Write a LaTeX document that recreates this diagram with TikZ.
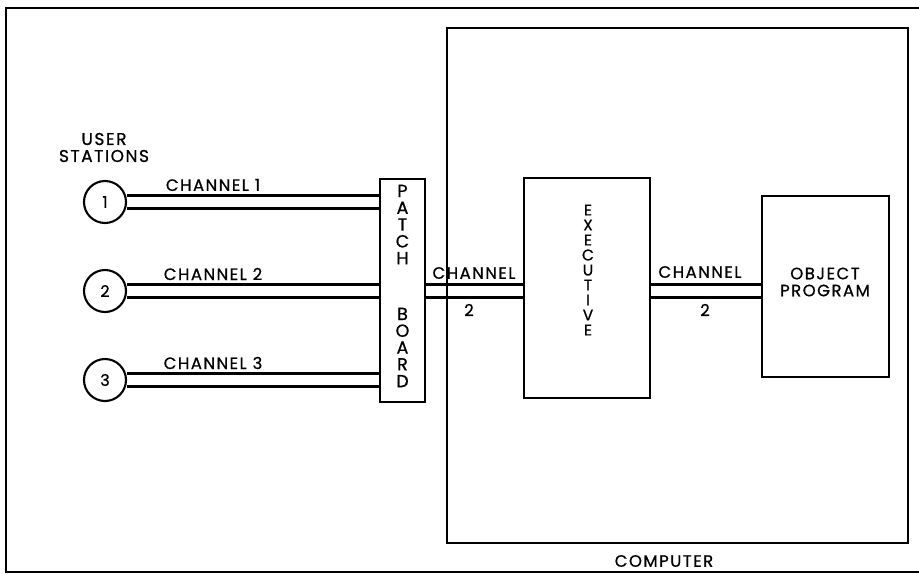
\documentclass[tikz,border=0pt]{standalone}
\usepackage{fontspec}
\setmainfont{Poppins}[LetterSpace=9, FakeBold=0.8]
\begin{document}
\begin{tikzpicture}[x=1pt,y=-1pt,
  ln/.style={line width=2.1pt},
  blk/.style={draw, line width=2.1pt, inner sep=0pt, rectangle},
  stn/.style={draw, line width=2.1pt, circle, minimum size=42pt, inner sep=0pt, font=\fontsize{16}{18}\selectfont},
  lbl/.style={font=\fontsize{16.5}{17}\selectfont, inner sep=0pt, align=center},
  vert/.style={font=\fontsize{17.5}{16.8}\selectfont, inner sep=0pt, align=center}]
\useasboundingbox (0,0) rectangle (919,574);
% outer frame (right side outside the picture)
\draw[ln] (930,8) -- (6,8) -- (6,572) -- (930,572);
% computer
\node[blk, minimum width=461pt, minimum height=515pt] (comp) at (677.5,285.5) {};
\node[lbl] (complbl) at (664,561) {COMPUTER};
% user stations
\node[lbl, font=\fontsize{17}{17}\selectfont] (us) at (104,147.5) {USER\\STATIONS};
\node[stn] (s1) at (105,202) {1};
\node[stn] (s2) at (105,291) {2};
\node[stn] (s3) at (105,380) {3};
% patch board
\node[blk, minimum width=45pt, minimum height=223pt] (pb) at (402.5,290.5) {};
\node[vert] (pbt) at (402.5,286) {P\\A\\T\\C\\H\\[39pt]B\\O\\A\\R\\D};
% executive
\node[blk, minimum width=126pt, minimum height=220pt] (ex) at (587,288) {};
\node[vert, font=\fontsize{15.5}{15}\selectfont] (ext) at (588,270) {E\\X\\E\\C\\U\\T\\I\\V\\E};
% object program
\node[blk, minimum width=127pt, minimum height=181pt] (op) at (825.5,286.5) {};
\node[lbl] (opt) at (825,282) {OBJECT\\PROGRAM};
% channels from stations
\foreach \s/\n in {s1/1,s2/2,s3/3}{
  \draw[ln] ([yshift=-6.5pt]\s.east) -- ([yshift=-6.5pt]\s.east -| pb.west);
  \draw[ln] ([yshift=6.5pt]\s.east) -- ([yshift=6.5pt]\s.east -| pb.west);
  \node[lbl] (c\n) at ([xshift=108pt,yshift=17pt]\s.center) {CHANNEL \n};
}
% channel 2 inside computer
\draw[ln] ([yshift=-6.5pt]s2.east -| pb.east) -- ([yshift=-6.5pt]s2.east -| ex.west);
\draw[ln] ([yshift=6.5pt]s2.east -| pb.east) -- ([yshift=6.5pt]s2.east -| ex.west);
\node[lbl] (cc1) at (474,273) {CHANNEL};
\node[lbl] (cc1n) at (469,310) {2};
\draw[ln] ([yshift=-6.5pt]s2.east -| ex.east) -- ([yshift=-6.5pt]s2.east -| op.west);
\draw[ln] ([yshift=6.5pt]s2.east -| ex.east) -- ([yshift=6.5pt]s2.east -| op.west);
\node[lbl] (cc2) at (700,272) {CHANNEL};
\node[lbl] (cc2n) at (705,310) {2};
\end{tikzpicture}
\end{document}
